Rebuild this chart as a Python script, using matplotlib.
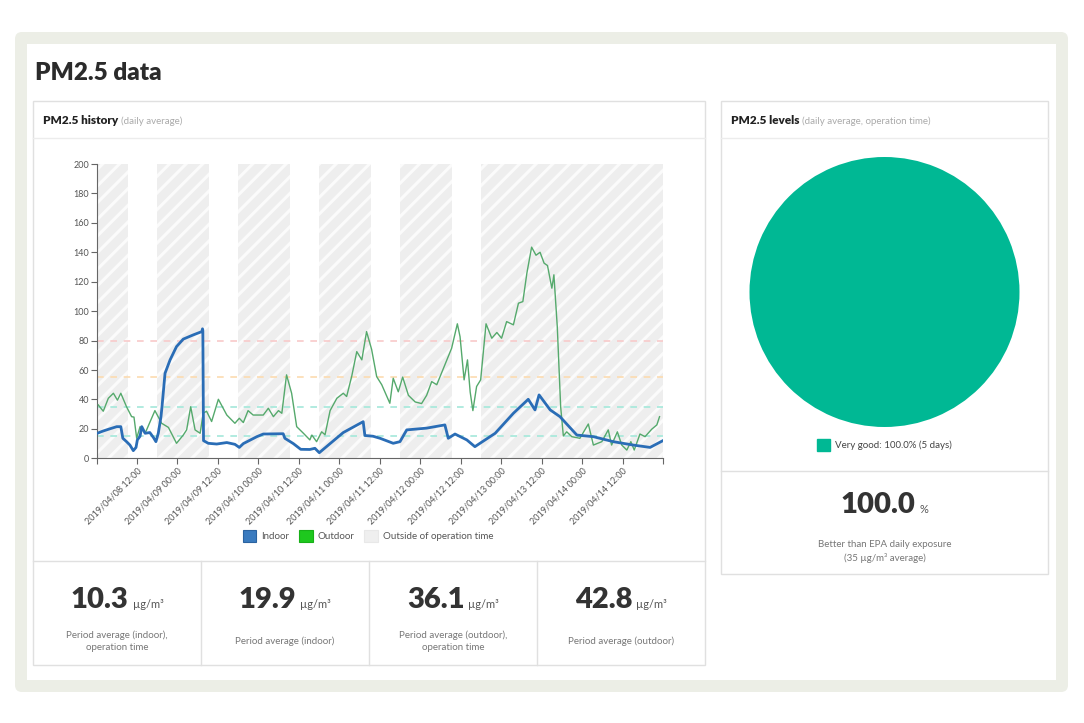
import matplotlib
matplotlib.use('Agg')
import matplotlib.pyplot as plt
import matplotlib.dates as mdates
from matplotlib.patches import Rectangle, FancyBboxPatch, Patch
from matplotlib.ticker import FixedLocator, MultipleLocator
import pandas as pd

plt.rcParams['font.family'] = ['Lato', 'DejaVu Sans']
plt.rcParams['hatch.linewidth'] = 2.2

# ---------------- data ----------------
START = pd.Timestamp('2019-04-08 00:00')
X_MIN = pd.Timestamp('2019-04-08 00:20')
X_MAX = pd.Timestamp('2019-04-14 23:50')

indoor_h = [0.33, 2, 4, 6.1, 7.3, 7.9, 9.0, 10, 11.0, 11.8, 12.2, 13.0, 13.5, 14.5, 15.9, 17.0,
            17.7, 18.4, 19.2, 19.5, 20.4, 21.9, 23.8, 25.8, 28.8, 31.3, 31.5, 31.6, 31.8, 33.2,
            35.7, 38.7, 41.1, 42.4, 43.6, 47.6, 49.5, 55.4, 55.9, 58.4, 60.6, 63.3, 64.8, 66.1,
            69.3, 73.2, 79.1, 79.6, 82, 84.1, 88, 90, 92, 97.9, 103.3, 104.3, 106.3, 109.8,
            112.2, 113.7, 118.2, 123.6, 128, 130, 131.2, 134.5, 137.4, 142.4, 147.3, 153.2,
            159.1, 164.1, 167.9]
indoor_v = [17.0, 18.5, 20, 21.5, 21.5, 13.6, 11.3, 9, 5.2, 7.4, 12.5, 15, 21.5, 17, 17.5, 14,
            11.3, 17, 28.3, 35, 57.8, 66.9, 75.9, 81, 83.9, 86.1, 88, 87, 12, 10.2,
            9.7, 10.7, 9.5, 7.4, 10, 14.7, 16.5, 16.7, 13.6, 10, 6.1, 6, 6.8, 3.8,
            10, 17.5, 24.9, 15.5, 15, 13.6, 10.2, 11.3, 19.3, 20.5, 22.7, 13.6, 16.5, 12.5,
            7.9, 10.2, 17, 30.6, 40.1, 32.9, 43.1, 32.9, 28.3, 15.8, 14.7, 11.3,
            9, 7.4, 12]

outdoor_h = [0.6, 2.1, 3.6, 5.1, 6.3, 7.3, 9.0, 10.5, 11.2, 12.0, 13.0, 14.5, 17.4, 19.4, 21.4,
             23.8, 25.8, 26.8, 28.0, 29.3, 30.8, 31.7, 32.7, 34.2, 36.2, 38.7, 41.1, 42.4, 43.6,
             45.0, 46.5, 49.5, 51.0, 52.5, 54.0, 55.0, 56.4, 57.9, 59.4, 61.4, 63.3, 63.9, 65.3,
             66.8, 67.8, 69.3, 71.3, 73.2, 74.2, 75.7, 77.2, 78.7, 80.1, 81.6, 83.1, 84.6, 87.0,
             88.0, 89.5, 90.8, 92.5, 94.5, 96.4, 97.9, 99.4, 100.9, 103.3, 105.3, 107.0, 107.8,
             109.0, 110.0, 110.8, 111.6, 112.7, 113.9, 115.5, 117.2, 118.7, 120.1, 121.6, 123.6,
             125.1, 126.4, 127.6, 129.0, 130.3, 131.5, 132.7, 133.7, 135.0, 135.6, 136.6, 137.6,
             138.4, 139.4, 140.9, 143.3, 145.8, 147.3, 149.8, 151.7, 152.7, 154.4, 155.7, 157.2,
             158.4, 159.4, 161.1, 162.6, 164.6, 166.1, 166.9]
outdoor_v = [36.3, 32, 40.8, 44.2, 39.5, 44.2, 35, 28.3, 28, 13.6, 21.5, 17, 32.4, 23.8, 21,
             10.2, 15.8, 19.3, 35, 19.3, 17, 30.6, 32, 25, 40.1, 29.4, 23.8, 27.2, 24.3,
             32.4, 29.4, 29.4, 34, 28.3, 32.4, 30.6, 56.7, 44.2, 21.5, 17, 12.5, 15.8, 11.3,
             18, 16, 32.4, 40.8, 44.2, 42, 55.7, 72.5, 66.9, 86.1, 74, 55.5, 50, 37.4,
             54.4, 45.2, 55.2, 42.8, 38.3, 37.2, 42.8, 52.1, 50, 63.5, 74.8, 91.4, 82.6,
             53.3, 66.9, 45, 32.4, 48.8, 53.3, 91.4, 81.6, 85.5, 81.6, 92.9, 90.7,
             105.4, 106.5, 125.9, 143.5, 138, 140, 132.6, 131, 115.6, 124.7, 89.5, 35.1,
             15.2, 18, 14.7, 13.6, 23.3, 9, 11.3, 19.3, 9, 18, 9, 5.6,
             11.3, 5.6, 16.5, 14.7, 19.8, 22.7, 28.3]

operation_days = ['2019-04-08', '2019-04-09', '2019-04-10', '2019-04-11', '2019-04-12']
operation_open = '09:30'
operation_close = '18:00'

thresholds = [15, 35, 55, 80]
threshold_colors = ['#a4e8da', '#a4e8da', '#fcdbb0', '#f8caca']

tick_times = pd.date_range('2019-04-08 12:00', '2019-04-14 12:00', freq='12h')

series_labels = ['Indoor', 'Outdoor', 'Outside of operation time']

stat_values = [10.3, 19.9, 36.1, 42.8]
stat_labels = ['Period average (indoor),\noperation time', 'Period average (indoor)',
               'Period average (outdoor),\noperation time', 'Period average (outdoor)']
stat_unit = 'µg/m³'

level_names = ['Very good']
level_days = [5]
level_colors = ['#00b894']
epa_share = 100.0

# ---------------- figure / layout ----------------
W, H = 1084, 723
fig = plt.figure(figsize=(W / 100, H / 100), dpi=100)
bg = fig.add_axes([0, 0, 1, 1])
bg.set_xlim(0, W)
bg.set_ylim(H, 0)
bg.axis('off')
bg.set_zorder(0)

bg.add_patch(FancyBboxPatch((15, 32), 1053, 660, boxstyle='round,pad=0,rounding_size=7',
                            fc='#eceee6', ec='none'))
bg.add_patch(Rectangle((27, 44), 1029, 636, fc='white', ec='none'))

PANEL_EC = '#e0e0e0'
# left panel
bg.add_patch(Rectangle((33, 101), 672, 564, fc='white', ec=PANEL_EC, lw=1))
bg.plot([33, 705], [138, 138], color='#ececec', lw=1)
bg.plot([33, 705], [561, 561], color=PANEL_EC, lw=1)
cell_edges = [33, 201, 369, 537, 705]
for xe in cell_edges[1:-1]:
    bg.plot([xe, xe], [561, 665], color=PANEL_EC, lw=1)
# right panel
bg.add_patch(Rectangle((721, 101), 327, 473, fc='white', ec=PANEL_EC, lw=1))
bg.plot([721, 1048], [138, 138], color='#ececec', lw=1)
bg.plot([721, 1048], [471, 471], color=PANEL_EC, lw=1)

fig.canvas.draw()
renderer = fig.canvas.get_renderer()


def tw(t):
    return t.get_window_extent(renderer).width


def inline(x, y, parts, center=False, gap=3):
    texts = [bg.text(0, y, s, ha='left', va='baseline', **kw) for s, kw in parts]
    widths = [tw(t) for t in texts]
    total = sum(widths) + gap * (len(texts) - 1)
    cx = x - total / 2 if center else x
    for t, w in zip(texts, widths):
        t.set_x(cx)
        cx += w + gap
    return texts


bg.text(35, 80, 'PM2.5 data', fontsize=17.5, weight='heavy', color='#2b2b2b', va='baseline')
inline(43, 124, [('PM2.5 history', dict(fontsize=8.5, weight='heavy', color='#222222')),
                 ('(daily average)', dict(fontsize=7, color='#aaaaaa'))])
inline(731, 124, [('PM2.5 levels', dict(fontsize=8.5, weight='heavy', color='#222222')),
                  ('(daily average, operation time)', dict(fontsize=7, color='#aaaaaa'))])

for i, (val, lab) in enumerate(zip(stat_values, stat_labels)):
    cx = (cell_edges[i] + cell_edges[i + 1]) / 2
    inline(cx, 608, [(f'{val:.1f}', dict(fontsize=21, weight='heavy', color='#333333')),
                     (stat_unit, dict(fontsize=8, color='#555555'))], center=True, gap=4)
    bg.text(cx, 641, lab, ha='center', va='center', fontsize=7, color='#777777',
            linespacing=1.5)

inline(884.5, 513, [(f'{epa_share:.1f}', dict(fontsize=21, weight='heavy', color='#333333')),
                    ('%', dict(fontsize=8, color='#555555'))], center=True, gap=4)
bg.text(884.5, 551.5, 'Better than EPA daily exposure\n(35 µg/m³ average)', ha='center',
        va='center', fontsize=7, color='#777777', linespacing=1.4)

# ---------------- history chart ----------------
ax = fig.add_axes([97.3 / W, 1 - 458.3 / H, (662.7 - 97.3) / W, (458.3 - 164) / H])
ax.set_zorder(2)
ax.set_facecolor('none')

indoor_t = (START + pd.to_timedelta(indoor_h, unit='h')).to_pydatetime()
outdoor_t = (START + pd.to_timedelta(outdoor_h, unit='h')).to_pydatetime()

bounds = [X_MIN]
for d in operation_days:
    bounds.append(pd.Timestamp(f'{d} {operation_open}'))
    bounds.append(pd.Timestamp(f'{d} {operation_close}'))
bounds.append(X_MAX)
for a, b in zip(bounds[0::2], bounds[1::2]):
    ax.axvspan(a.to_pydatetime(), b.to_pydatetime(), facecolor='#eeeeee', edgecolor='#fbfbfb',
               hatch='//', linewidth=0, zorder=0)

for v, c in zip(thresholds, threshold_colors):
    ax.axhline(v, color=c, lw=1.2, ls=(0, (4, 4)), zorder=1)

ax.plot(outdoor_t, outdoor_v, color='#55a96c', lw=1.0, zorder=3)
ax.plot(indoor_t, indoor_v, color='#2a6db6', lw=2.0, zorder=4)

ax.set_xlim(X_MIN.to_pydatetime(), X_MAX.to_pydatetime())
ax.set_ylim(0, 200)
ax.yaxis.set_major_locator(MultipleLocator(20))
ax.xaxis.set_major_locator(FixedLocator(mdates.date2num(tick_times.to_pydatetime())))
ax.xaxis.set_major_formatter(mdates.DateFormatter('%Y/%m/%d %H:%M'))
ax.xaxis.set_minor_locator(FixedLocator(mdates.date2num([X_MIN.to_pydatetime(),
                                                         X_MAX.to_pydatetime()])))
for s in ['top', 'right']:
    ax.spines[s].set_visible(False)
for s in ['left', 'bottom']:
    ax.spines[s].set_color('#666666')
    ax.spines[s].set_linewidth(0.8)
ax.tick_params(which='both', direction='out', length=4, width=0.8, color='#666666',
               labelsize=6.5, labelcolor='#555555', pad=2)
plt.setp(ax.get_xticklabels(), rotation=45, ha='right', rotation_mode='anchor')

hist_handles = [Patch(fc='#3a7bbf', ec='#2b63a0', lw=0.8),
                Patch(fc='#1ec81e', ec='#18b018', lw=0.8),
                Patch(fc='#efefef', ec='#e8e8e8', lw=0.8)]
fig.legend(hist_handles, series_labels, loc='center', bbox_to_anchor=(368 / W, 1 - 536 / H),
           ncol=3, frameon=False, fontsize=7, handlelength=1.4, handleheight=1.4,
           handletextpad=0.5, columnspacing=1.0, labelcolor='#555555', borderaxespad=0)

# ---------------- pie ----------------
R = 135
axp = fig.add_axes([(884.5 - R) / W, 1 - (292 + R) / H, 2 * R / W, 2 * R / H])
axp.set_zorder(2)
axp.pie(level_days, colors=level_colors, startangle=90, counterclock=False,
        wedgeprops=dict(linewidth=0))
axp.set_xlim(-1, 1)
axp.set_ylim(-1, 1)
axp.set_aspect('equal')
axp.axis('off')

total_days = sum(level_days)
pie_labels = [f'{n}: {d / total_days * 100:.1f}% ({d} days)' for n, d in zip(level_names, level_days)]
fig.legend([Patch(fc=c, ec=c) for c in level_colors], pie_labels, loc='center',
           bbox_to_anchor=(884.5 / W, 1 - 445 / H), frameon=False, fontsize=7,
           handlelength=1.4, handleheight=1.4, handletextpad=0.5, labelcolor='#444444',
           borderaxespad=0)

fig.savefig('out.png', dpi=100)
